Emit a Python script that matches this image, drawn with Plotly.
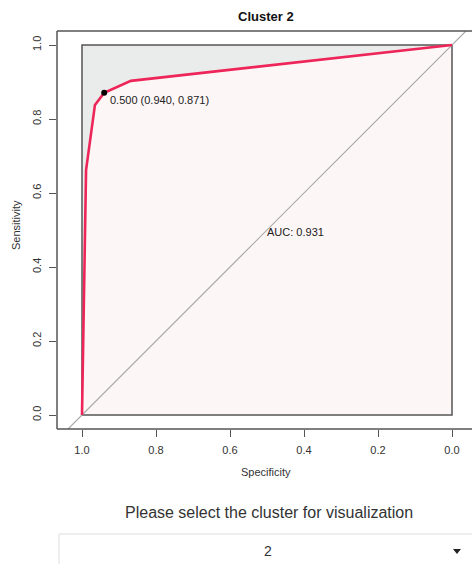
import plotly.graph_objects as go

# ---- data ----
specificity = [1.0, 0.989, 0.965, 0.940, 0.868, 0.0]
sensitivity = [0.0, 0.662, 0.838, 0.871, 0.903, 1.0]
best_threshold = 0.500
best_spec = 0.940
best_sens = 0.871
auc_value = 0.931
tick_values = [0.0, 0.2, 0.4, 0.6, 0.8, 1.0]
tick_labels = ["0.0", "0.2", "0.4", "0.6", "0.8", "1.0"]
cluster_title = "Cluster 2"
selected_cluster = "2"
select_prompt = "Please select the cluster for visualization"

W, H = 472, 564
L, R, T, B = 57, 0, 31, 135
PW = W - L - R
PH = H - T - B


def px(x):
    return (x - L) / PW


def py(y):
    return (H - B - y) / PH


FONT = "Liberation Sans, Arial, sans-serif"
CURVE = "#EE2558"

fig = go.Figure()

# max AUC (perfect) polygon: light gray
fig.add_trace(go.Scatter(x=[1, 1, 0, 0, 1], y=[0, 1, 1, 0, 0], fill="toself",
                         fillcolor="#EAEBEB", line=dict(width=0), mode="lines",
                         hoverinfo="skip", showlegend=False))
# AUC polygon: very light pink
fig.add_trace(go.Scatter(x=specificity + [0, 1], y=sensitivity + [0, 0], fill="toself",
                         fillcolor="#FDF6F6", line=dict(width=0), mode="lines",
                         hoverinfo="skip", showlegend=False))
# inner box outline
fig.add_trace(go.Scatter(x=[1, 1, 0, 0, 1], y=[0, 1, 1, 0, 0], mode="lines",
                         line=dict(color="#555555", width=1.5),
                         hoverinfo="skip", showlegend=False))
# chance diagonal
fig.add_trace(go.Scatter(x=[1.2, -0.2], y=[-0.2, 1.2], mode="lines",
                         line=dict(color="#AAAAAA", width=1.2),
                         hoverinfo="skip", showlegend=False))
# ROC curve
fig.add_trace(go.Scatter(x=specificity, y=sensitivity, mode="lines",
                         line=dict(color=CURVE, width=2.6),
                         showlegend=False))
# best threshold point
fig.add_trace(go.Scatter(x=[best_spec], y=[best_sens], mode="markers",
                         marker=dict(color="black", size=6),
                         showlegend=False))

x0 = 1 + 25 / 370
x1 = 1 - (W - 82) / 370
y0 = -14 / 370
y1 = 1 + 14 / 370

fig.update_xaxes(range=[x0, x1], showgrid=False, zeroline=False, showline=False,
                 tickvals=tick_values, ticktext=tick_labels, ticks="outside",
                 ticklen=7, tickwidth=1, tickcolor="#555555",
                 tickfont=dict(family=FONT, size=11, color="#333333"),
                 ticklabelstandoff=4)
fig.update_yaxes(range=[y0, y1], showgrid=False, zeroline=False, showline=False,
                 tickvals=tick_values, ticktext=tick_labels, ticks="outside",
                 ticklen=7, tickwidth=1, tickcolor="#555555", tickangle=-90,
                 tickfont=dict(family=FONT, size=11, color="#333333"),
                 ticklabelstandoff=4)

shapes = [
    # outer box (left, top, bottom)
    dict(type="line", xref="paper", yref="paper", x0=0, x1=0, y0=0, y1=1,
         line=dict(color="#555555", width=1.5)),
    dict(type="line", xref="paper", yref="paper", x0=0, x1=1, y0=1, y1=1,
         line=dict(color="#555555", width=1.5)),
    dict(type="line", xref="paper", yref="paper", x0=0, x1=1, y0=0, y1=0,
         line=dict(color="#555555", width=1.5)),
    # dropdown box
    dict(type="rect", xref="paper", yref="paper", x0=px(59), x1=px(490),
         y0=py(590), y1=py(534), line=dict(color="#DDDDDD", width=1),
         fillcolor="white", layer="below"),
    # dropdown caret
    dict(type="path", xref="paper", yref="paper",
         path="M %f %f L %f %f L %f %f Z" % (px(453), py(549), px(461), py(549), px(457), py(554)),
         fillcolor="#222222", line=dict(width=0)),
]


def ann(text, x, y, size, color="#333333", **kw):
    d = dict(text=text, xref="paper", yref="paper", x=px(x), y=py(y),
             xanchor="center", yanchor="middle", showarrow=False,
             font=dict(family=FONT, size=size, color=color))
    d.update(kw)
    return d


annotations = [
    ann("<b>%s</b>" % cluster_title, 266, 17, 13, "#111111"),
    ann("Specificity", 266, 472, 11),
    ann("Sensitivity", 16, 225, 11, textangle=-90),
    dict(text="%.3f (%.3f, %.3f)" % (best_threshold, best_spec, best_sens),
         x=best_spec, y=best_sens, xref="x", yref="y", xanchor="left", yanchor="middle",
         xshift=4, yshift=-7, showarrow=False,
         font=dict(family=FONT, size=11, color="#222222")),
    dict(text="AUC: %.3f" % auc_value, x=0.5, y=0.5, xref="x", yref="y",
         xanchor="left", yanchor="middle", xshift=-2, yshift=-2, showarrow=False,
         font=dict(family=FONT, size=11, color="#222222")),
    ann(select_prompt, 269, 512, 16),
    ann(selected_cluster, 268, 551, 14),
]

fig.update_layout(width=W, height=H, margin=dict(l=L, r=R, t=T, b=B, pad=0),
                  paper_bgcolor="white", plot_bgcolor="white",
                  shapes=shapes, annotations=annotations, showlegend=False)

fig.write_html("out.html", config={"displayModeBar": False})
